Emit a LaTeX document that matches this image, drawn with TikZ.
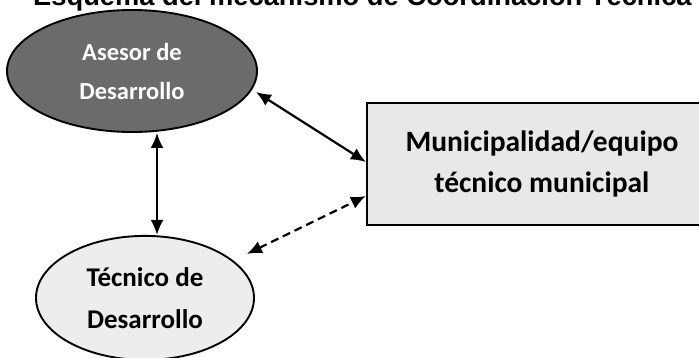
\documentclass[tikz,border=0pt]{standalone}
\usepackage{fontspec}
\newfontfamily\calibfont{Carlito}
\newfontfamily\titlefont{Liberation Sans}
\usetikzlibrary{arrows.meta,positioning,shapes.geometric}

\begin{document}
\begin{tikzpicture}[
    x=1pt, y=-1pt,
    node distance=10mm and 10mm,
    oval/.style={draw,ellipse,line width=1.9pt,align=center,inner sep=2pt},
    panel/.style={draw,rectangle,line width=1.9pt,align=center,fill=black!9,minimum width=350pt,minimum height=122pt},
    arr/.style={{Latex[length=15pt,width=13pt]}-{Latex[length=15pt,width=13pt]},line width=2.2pt}
]
\useasboundingbox (0,0) rectangle (699,358);
\clip (0,0) rectangle (699,358);
\node[anchor=base west,inner sep=0pt,font={\titlefont\bfseries\fontsize{27.3}{30}\selectfont}] (titulo) at (33,6) {Esquema del mecanismo de Coordinación Técnica};
\node[oval,fill=black!58,text=white,minimum width=250pt,minimum height=122pt,font={\calibfont\bfseries\fontsize{24.5}{39}\selectfont}] (asesor) at (132,71) {Asesor de\\Desarrollo};
\node[oval,fill=black!7,minimum width=218pt,minimum height=124pt,below=102pt of asesor,xshift=13pt,font={\calibfont\bfseries\fontsize{27}{42}\selectfont}] (tecnico) {Técnico de\\Desarrollo};
\node[panel,right=108pt of asesor,yshift=-93pt,font={\calibfont\bfseries\fontsize{29.5}{41}\selectfont}] (muni) {Municipalidad/equipo\\técnico municipal};
\draw[arr] ([xshift=25pt]asesor.south) -- ([xshift=12pt]tecnico.north);
\draw[arr] ([xshift=-2pt,yshift=-21pt]asesor.east) -- ([yshift=2pt]muni.west);
\draw[arr,dash pattern=on 8pt off 5pt] ([xshift=-8pt,yshift=44pt]tecnico.east) -- ([yshift=-32pt]muni.west);
\end{tikzpicture}
\end{document}
